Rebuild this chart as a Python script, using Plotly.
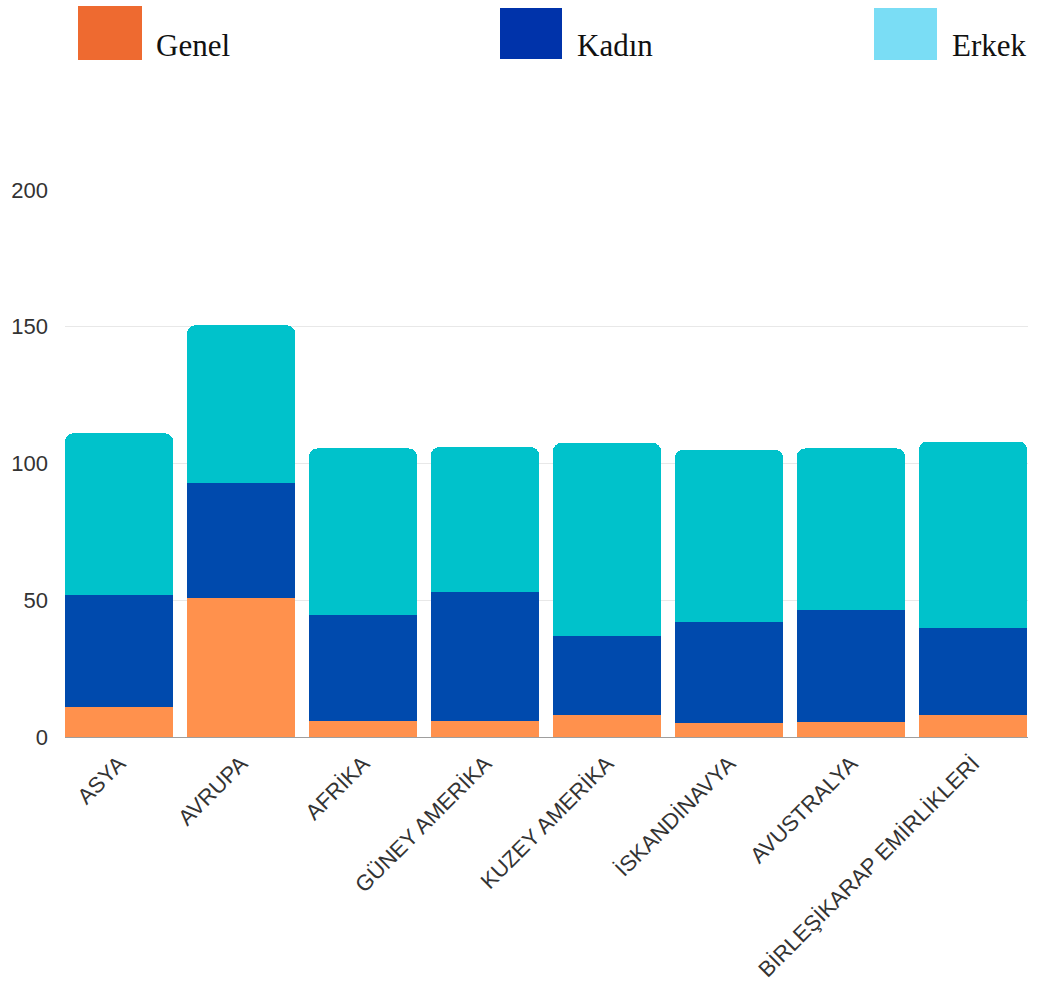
import plotly.graph_objects as go

categories = ["ASYA", "AVRUPA", "AFRİKA", "GÜNEY AMERİKA", "KUZEY AMERİKA",
              "İSKANDİNAVYA", "AVUSTRALYA", "BİRLEŞİKARAP EMİRLİKLERİ"]
genel = [11, 51, 6, 6, 8, 5, 5.5, 8]
kadin = [41, 42, 38.5, 47, 29, 37, 41, 32]
erkek = [59, 57.5, 61, 53, 70.5, 63, 59, 68]
series_names = ["Genel", "Kadın", "Erkek"]
y_ticks = [0, 50, 100, 150, 200]

bar_colors = ["#FF914D", "#004AAD", "#00C2CB"]
legend_colors = ["#EE6A30", "#0033AA", "#7ADDF5"]

W, H = 1038, 988
L, R, T, B = 65, 10, 190, 251
PW, PH = W - L - R, H - T - B

def px_x(x):
    return (x - L) / PW

def px_y(y):
    return (H - B - y) / PH

fig = go.Figure()
for name, vals, col in zip(series_names, [genel, kadin, erkek], bar_colors):
    fig.add_trace(go.Bar(x=categories, y=vals, name=name, marker_color=col,
                         marker_line_width=0, showlegend=False))

# custom legend (squares + serif labels)
legend_boxes = [(78, 6, 142, 60), (500, 8, 562, 59), (874, 8, 937, 60)]
legend_text_x = [154, 575, 950]
for (x0, y0, x1, y1), col, name, tx in zip(legend_boxes, legend_colors, series_names, legend_text_x):
    fig.add_shape(type="rect", xref="paper", yref="paper",
                  x0=px_x(x0), x1=px_x(x1), y0=px_y(y1), y1=px_y(y0),
                  fillcolor=col, line_width=0)
    fig.add_annotation(text=name, xref="paper", yref="paper", x=px_x(tx), y=px_y(46),
                       xanchor="left", yanchor="middle", showarrow=False,
                       font=dict(family="Liberation Serif, Times New Roman, serif", size=31, color="#111"))

fig.update_layout(
    width=W, height=H,
    margin=dict(l=L, r=R, t=T, b=B, autoexpand=False),
    barmode="stack", bargap=0.114, barcornerradius=8,
    plot_bgcolor="white", paper_bgcolor="white",
    font=dict(family="Liberation Sans, Arial, sans-serif", size=22, color="#333"),
)
fig.update_yaxes(range=[0, 200], tickvals=y_ticks, showgrid=True, gridcolor="#e8e8e8",
                 gridwidth=1, zeroline=False, showline=False, ticks="",
                 ticklabelstandoff=16, fixedrange=True, automargin=False)
fig.update_xaxes(tickangle=-45, showline=True, linecolor="#9e9e9e", linewidth=1,
                 ticks="", showgrid=False, range=[-0.443, 7.451],
                 ticklabelstandoff=4, automargin=False)

fig.write_html("out.html")
